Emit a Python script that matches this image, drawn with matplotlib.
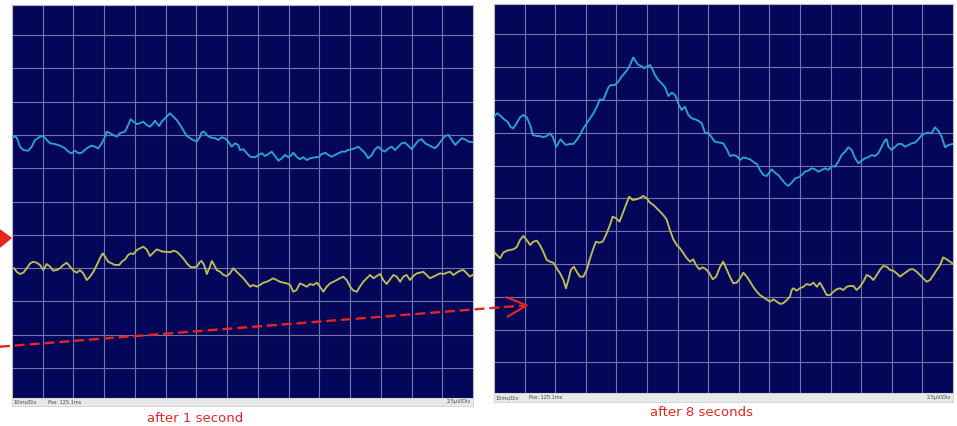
import numpy as np
import matplotlib
matplotlib.use("Agg")
import matplotlib.pyplot as plt
from matplotlib.lines import Line2D
from matplotlib.patches import Polygon

# scope settings shown in the status bar
time_div = 10.0      # ms per division
volt_div = 2.5       # uV per division
n_div_x = 15

# --- screen 1: "after 1 second" (time in ms, amplitude in uV) ---
t_1s_cyan = [0.0, 1.5, 2.6, 3.7, 5.3, 6.4, 7.5, 9.1, 10.2, 11.3,
             12.4, 14.0, 15.6, 17.3, 18.3, 19.4, 20.5, 21.6, 22.7, 24.3,
             25.9, 27.0, 28.1, 29.2, 30.3, 30.8, 31.9, 33.0, 34.1, 35.1,
             36.8, 37.8, 38.6, 39.5, 40.6, 41.7, 42.7, 43.8, 44.9, 46.0,
             46.5, 47.1, 47.9, 48.7, 49.8, 50.9, 51.4, 52.5, 53.6, 54.7,
             55.7, 56.9, 58.5, 60.1, 61.2, 61.7, 62.5, 63.4, 64.4, 66.1,
             67.1, 68.2, 69.3, 70.4, 71.5, 72.6, 73.6,
             74.2, 75.3, 76.4, 77.5, 79.1, 80.2, 81.3, 82.3, 83.4, 84.5,
             85.6, 86.7, 87.8, 88.8, 89.9, 91.0, 91.5, 92.6, 93.7, 94.8,
             95.9, 97.0, 98.6, 99.7, 100.8, 101.9, 102.9, 104.0, 105.1, 106.2,
             107.3, 108.4, 109.4, 110.5, 111.6, 112.7, 113.8, 114.9, 115.9, 117.1,
             118.1, 119.2, 120.3, 121.4, 122.5, 123.6, 124.6, 125.7, 126.8, 127.9,
             129.0, 130.1, 131.1, 132.2, 133.3, 134.4, 135.5, 136.6, 137.6, 138.7,
             139.8, 140.9, 142.0, 143.1, 144.2, 145.2, 146.3, 147.4, 148.5, 149.8]
v_1s_cyan = [4.86, 4.82, 4.11, 3.86, 3.81, 4.11, 4.61, 4.86, 4.91, 4.61,
             4.37, 4.31, 4.19, 3.99, 3.74, 3.62, 3.81, 3.62, 3.66, 3.99,
             4.19, 4.11, 3.99, 4.37, 4.86, 5.24, 5.12, 4.99, 4.86, 5.12,
             5.24, 5.74, 6.17, 5.99, 5.81, 5.87, 5.99, 5.74, 5.61, 5.87,
             6.06, 5.87, 5.66, 5.99, 6.24, 6.49, 6.62, 6.36, 6.11, 5.74,
             5.36, 4.91, 4.67, 4.49, 4.86, 5.19, 5.24, 4.99, 4.82, 4.74,
             4.61, 4.82, 4.74, 4.49, 4.11, 4.37, 4.24,
             3.86, 3.92, 3.62, 3.36, 3.32, 3.49, 3.62, 3.41, 3.56, 3.74,
             3.41, 3.06, 3.24, 3.49, 3.32, 3.49, 3.66, 3.36, 3.17, 3.32,
             3.11, 3.24, 3.32, 3.32, 3.56, 3.66, 3.49, 3.36, 3.49, 3.62,
             3.74, 3.74, 3.86, 3.92, 3.99, 4.11, 3.86, 3.62, 3.24, 3.49,
             3.92, 4.11, 3.86, 3.74, 3.99, 4.11, 3.86, 4.11, 4.37, 4.41,
             4.16, 3.92, 4.24, 4.56, 4.67, 4.37, 4.24, 4.11, 3.99, 4.24,
             4.61, 4.91, 4.99, 4.61, 4.24, 4.49, 4.74, 4.67, 4.49, 4.44]

t_1s_yellow = [0.7, 1.5, 2.6, 3.7, 4.8, 5.9, 6.9, 8.0, 9.1, 10.2,
               11.3, 12.4, 13.4, 14.6, 15.6, 16.7, 17.8, 18.9, 20.0, 21.1,
               22.1, 23.2, 24.3, 25.4, 26.5, 27.6, 28.6, 29.5, 30.3, 31.3,
               32.4, 33.5, 34.9, 35.7, 36.8, 37.8, 38.6, 39.5, 40.6, 41.7,
               42.7, 43.8, 44.9, 46.0, 47.1, 48.2, 49.2, 50.3, 51.4, 52.5,
               53.6, 54.7, 55.7, 56.9, 57.9, 59.0, 60.1, 61.2, 61.7, 62.5,
               63.4, 64.4, 65.0, 65.5, 66.6, 67.7, 68.8, 69.9, 70.9, 72.0,
               73.1, 74.2,
               75.3, 76.4, 77.5, 78.5, 79.6, 80.7, 81.8, 82.9, 84.0, 85.0,
               86.1, 87.2, 88.3, 89.4, 90.5, 91.5, 92.6, 93.7, 94.8, 95.9,
               97.0, 98.0, 99.2, 100.2, 101.3, 102.4, 103.5, 104.6, 105.7, 106.7,
               107.8, 108.9, 110.0, 111.1, 112.2, 113.2, 114.3, 115.4, 116.5, 117.6,
               118.7, 119.8, 120.8, 121.9, 123.0, 124.1, 125.2, 126.3, 127.3, 128.4,
               129.5, 130.6, 131.7, 132.8, 133.8, 134.9, 136.0, 137.1, 138.2, 139.3,
               140.4, 141.5, 142.5, 143.6, 144.7, 145.8, 146.9, 148.0, 149.0, 149.8]
v_1s_yellow = [-5.01, -5.27, -5.44, -5.34, -5.01, -4.64, -4.52, -4.59, -4.76, -5.14,
               -4.69, -4.89, -5.19, -5.14, -5.01, -4.76, -4.59, -4.89, -5.19, -5.34,
               -5.14, -5.39, -5.89, -5.64, -5.27, -4.76, -4.26, -3.89, -4.14, -4.52,
               -4.64, -4.76, -4.76, -4.52, -4.34, -4.01, -3.89, -3.94, -3.64, -3.51,
               -3.39, -3.59, -4.09, -3.84, -3.59, -3.69, -3.77, -3.77, -3.81, -3.69,
               -3.77, -4.01, -4.26, -4.64, -4.89, -4.94, -4.89, -4.52, -4.46, -4.76,
               -5.44, -4.89, -4.46, -4.64, -5.14, -5.27, -5.51, -5.59, -5.39, -5.01,
               -5.27, -5.51,
               -5.76, -6.09, -6.39, -6.26, -6.39, -6.26, -6.09, -6.02, -5.89, -5.76,
               -5.89, -6.02, -6.09, -6.14, -6.26, -6.77, -6.64, -6.14, -6.26, -6.39,
               -6.19, -6.26, -6.09, -6.39, -6.77, -6.39, -6.14, -6.02, -5.89, -5.76,
               -5.64, -5.89, -6.39, -6.69, -6.77, -6.39, -6.02, -5.76, -5.51, -5.76,
               -5.59, -5.44, -5.89, -6.19, -5.84, -5.51, -5.64, -6.02, -5.64, -5.51,
               -5.89, -5.59, -5.39, -5.34, -5.27, -5.51, -5.76, -5.64, -5.51, -5.39,
               -5.44, -5.34, -5.27, -5.51, -5.34, -5.19, -5.14, -5.39, -5.64, -5.51]

# --- screen 2: "after 8 seconds" ---
t_8s_cyan = [0.0, 1.1, 2.2, 3.3, 4.4, 5.5, 6.3, 7.4, 8.5, 9.6,
             10.7, 11.8, 12.7, 14.0, 15.0, 16.1, 17.2, 18.3, 19.2, 20.3,
             21.0, 21.8, 22.7, 23.5, 24.6, 25.9, 27.0, 28.1, 29.2, 30.3,
             31.4, 32.5, 33.6, 34.6, 35.7, 36.6, 37.4, 38.1, 39.5, 40.6,
             41.7, 42.8, 43.9, 44.7, 45.5, 46.4, 47.2, 48.3, 49.0, 49.9,
             51.0, 51.9, 52.6, 53.7, 54.8, 55.9, 57.0, 58.1, 59.2, 60.2,
             61.3, 62.4, 63.5, 64.6, 65.7, 66.8, 67.9, 69.0, 70.0, 71.1,
             72.2, 73.9,
             74.9, 76.1, 77.1, 78.2, 79.3, 80.4, 81.5, 82.6, 83.7, 84.7,
             85.9, 86.9, 88.0, 89.1, 90.2, 90.8, 91.8, 92.9, 94.0, 95.1,
             96.2, 97.3, 98.4, 99.5, 100.6, 101.6, 102.7, 103.8, 104.9, 106.0,
             107.1, 108.2, 109.3, 110.4, 111.4, 112.5, 113.6, 114.7, 115.8, 116.9,
             118.0, 119.1, 120.2, 121.2, 122.3, 123.4, 124.5, 125.6, 126.7, 127.8,
             128.3, 128.9, 130.0, 131.1, 132.1, 133.2, 134.3, 135.4, 136.5, 137.6,
             138.7, 139.8, 140.9, 141.9, 143.0, 144.1, 145.2, 146.3, 147.4, 148.5, 149.8]
v_8s_cyan = [6.22, 6.48, 6.27, 6.02, 5.84, 5.41, 5.33, 5.72, 6.17, 6.35,
             6.17, 5.59, 4.82, 4.75, 4.75, 4.65, 4.75, 4.95, 4.69, 3.93,
             4.19, 4.50, 4.24, 4.06, 4.14, 4.14, 4.44, 4.82, 5.33, 5.72,
             6.10, 6.48, 6.98, 7.54, 7.49, 8.00, 8.46, 8.63, 8.63, 8.88,
             9.27, 9.57, 9.91, 10.29, 10.74, 10.41, 10.16, 10.08, 9.91, 10.03,
             10.16, 9.78, 9.40, 9.01, 8.76, 8.46, 7.80, 8.05, 7.87, 7.24,
             6.73, 6.98, 6.35, 6.10, 6.02, 5.91, 5.72, 4.95, 5.00, 4.65,
             4.31, 4.24,
             4.19, 3.73, 3.22, 3.30, 3.22, 2.92, 3.12, 3.05, 2.97, 2.79,
             2.61, 2.16, 1.78, 1.70, 2.03, 2.21, 1.95, 1.78, 1.45, 1.14,
             0.94, 1.19, 1.52, 1.60, 1.78, 2.03, 2.10, 2.29, 2.21, 2.03,
             2.16, 2.29, 2.16, 2.46, 2.41, 2.79, 3.30, 3.55, 3.89, 3.68,
             3.05, 2.67, 2.87, 3.05, 3.12, 3.30, 3.22, 3.43, 3.93, 4.44,
             4.50, 3.93, 3.68, 3.93, 4.14, 4.14, 3.93, 4.06, 4.19, 4.24,
             4.50, 4.82, 4.95, 5.00, 4.95, 5.41, 5.15, 4.69, 3.89, 4.06, 4.14]

t_8s_yellow = [0.0, 0.9, 2.0, 3.0, 4.2, 5.2, 6.3, 7.4, 8.5, 9.6,
               10.7, 11.8, 12.8, 14.0, 15.0, 16.1, 17.2, 18.3, 19.4, 20.5,
               21.6, 22.7, 23.5, 24.3, 25.1, 26.1, 27.2, 28.1, 29.2, 30.3,
               31.4, 32.5, 33.3, 34.4, 35.5, 36.6, 37.9, 38.8, 39.9, 41.0,
               42.1, 43.1, 44.2, 45.3, 46.4, 47.5, 48.8, 49.9, 51.0, 52.1,
               53.2, 54.3, 55.3, 56.4, 57.5, 58.6, 59.7, 60.8, 61.9, 63.0,
               64.1, 65.1, 66.0, 67.1, 68.2, 69.3, 70.4, 71.5, 72.6, 73.9,
               74.9, 76.1, 77.1, 78.2, 79.3, 80.4, 81.5, 82.6, 83.7, 84.7,
               85.9, 86.9, 88.0, 89.1, 90.2, 91.3, 92.4, 93.5, 94.5, 95.7,
               96.7, 97.3, 97.8, 98.9, 100.0, 101.1, 102.2, 103.3, 104.4, 105.5,
               106.5, 107.6, 108.7, 109.8, 110.9, 112.0, 113.1, 114.2, 115.3, 116.3,
               117.4, 118.5, 119.6, 120.7, 121.8, 122.9, 124.0, 125.1, 126.1, 127.2,
               128.3, 129.4, 130.5, 131.6, 132.7, 133.8, 134.9, 136.0, 137.0, 138.1,
               139.2, 140.3, 141.4, 142.5, 143.6, 144.7, 145.8, 146.8, 147.9, 149.0, 149.8]
v_8s_yellow = [-4.07, -4.32, -4.57, -4.15, -3.99, -3.94, -3.89, -3.73, -3.18, -2.87,
               -3.18, -3.56, -3.31, -3.23, -3.56, -4.07, -4.70, -4.83, -4.91, -5.33,
               -5.72, -6.23, -6.86, -6.23, -5.46, -5.21, -5.67, -5.97, -5.97, -5.46,
               -4.57, -3.81, -3.31, -3.38, -3.31, -2.80, -2.03, -1.40, -1.52, -1.78,
               -1.14, -0.51, 0.12, -0.13, -0.08, 0.00, 0.18, 0.00, -0.34, -0.51,
               -0.76, -1.02, -1.27, -1.60, -2.42, -3.12, -3.56, -3.81, -4.19, -4.57,
               -4.83, -4.65, -5.08, -5.41, -5.26, -5.41, -5.72, -6.17, -5.97, -5.21,
               -4.83, -5.46, -5.97, -6.48, -6.43, -6.10, -5.67, -5.97, -6.36, -6.74,
               -7.12, -7.37, -7.54, -7.70, -7.88, -7.70, -7.88, -8.05, -8.00, -7.75,
               -7.50, -6.99, -6.86, -7.04, -6.86, -6.74, -6.53, -6.61, -6.43, -6.74,
               -6.43, -6.86, -7.37, -7.37, -7.12, -6.93, -6.86, -6.99, -6.74, -6.68,
               -6.68, -6.99, -6.74, -6.36, -5.84, -5.97, -6.23, -5.84, -5.46, -5.16,
               -5.21, -5.46, -5.52, -5.72, -5.97, -5.77, -5.59, -5.41, -5.41, -5.59,
               -5.84, -6.10, -6.36, -6.23, -5.84, -5.46, -5.08, -4.50, -4.65, -4.83, -4.95]

captions = ["after 1 second", "after 8 seconds"]
status_left = ["10ms/Div", "Pos: 125.1ms"]
status_right = "2.5\u00b5V/Div"

SCREEN_BG = "#04065a"
GRID = "#7474a8"
CYAN = "#2ba2d3"
YELLOW = "#bdbd55"
RED = "#e8241f"

W, H = 957, 426


def px_rect(x0, y0, x1, y1):
    # pixel box (top-left origin) -> figure fraction rect
    return [x0 / W, 1 - y1 / H, (x1 - x0) / W, (y1 - y0) / H]


def draw_screen(fig, rect, bar_rect, ylim, traces, caption, cap_xy, pos_x):
    ax = fig.add_axes(rect)
    ax.set_facecolor(SCREEN_BG)
    for t, v, c in traces:
        ax.plot(t, v, color=c, lw=1.35, solid_joinstyle="round", zorder=3)
    ax.set_xlim(0, n_div_x * time_div)
    ax.set_ylim(*ylim)
    ax.set_xticks(np.arange(time_div, n_div_x * time_div, time_div))
    ax.set_yticks(np.arange(-5 * volt_div, 6 * volt_div, volt_div))
    ax.grid(True, color=GRID, lw=0.8)
    ax.tick_params(length=0, labelbottom=False, labelleft=False)
    for s in ax.spines.values():
        s.set_color("#b9b9c6")
        s.set_linewidth(0.8)

    bar = fig.add_axes(bar_rect)
    bar.set_facecolor("#e8e8e8")
    bar.set_xticks([])
    bar.set_yticks([])
    for s in bar.spines.values():
        s.set_color("#cfcfcf")
        s.set_linewidth(0.6)
    bar.text(0.004, 0.5, status_left[0], fontsize=3.6, va="center", color="#444444")
    bar.text(pos_x, 0.5, status_left[1], fontsize=3.6, va="center", color="#444444")
    bar.text(0.995, 0.5, status_right, fontsize=3.6, va="center", ha="right", color="#444444")

    fig.text(cap_xy[0] / W, 1 - cap_xy[1] / H, caption, color=RED,
             fontsize=9.5, ha="center", va="center")
    return ax


def main():
    fig = plt.figure(figsize=(W / 100, H / 100), dpi=100)
    fig.patch.set_facecolor("white")

    draw_screen(fig, px_rect(12, 5, 473, 398), px_rect(12, 398, 473, 406),
                (-14.74, 14.74),
                [(t_1s_cyan, v_1s_cyan, CYAN), (t_1s_yellow, v_1s_yellow, YELLOW)],
                captions[0], (195, 418), 0.078)
    draw_screen(fig, px_rect(494, 4, 953, 393), px_rect(494, 393, 953, 402),
                (-14.84, 14.81),
                [(t_8s_cyan, v_8s_cyan, CYAN), (t_8s_yellow, v_8s_yellow, YELLOW)],
                captions[1], (702, 413), 0.076)

    # red dashed arrow across both screens
    fig.add_artist(Line2D([0, 525 / W], [1 - 346.7 / H, 1 - 305.4 / H],
                          color=RED, lw=1.7, ls=(0, (4.2, 2.1)), zorder=10))
    fig.add_artist(Line2D([507 / W, 526.5 / W, 508 / W],
                          [1 - 297.5 / H, 1 - 305.3 / H, 1 - 316.5 / H],
                          color=RED, lw=1.6, zorder=10))
    # cropped arrow head on the far left
    fig.add_artist(Polygon([(0, 1 - 230 / H), (11 / W, 1 - 238 / H), (0, 1 - 247 / H)],
                           closed=True, color=RED, transform=fig.transFigure, zorder=10))

    fig.savefig("out.png", dpi=100)


if __name__ == "__main__":
    main()
